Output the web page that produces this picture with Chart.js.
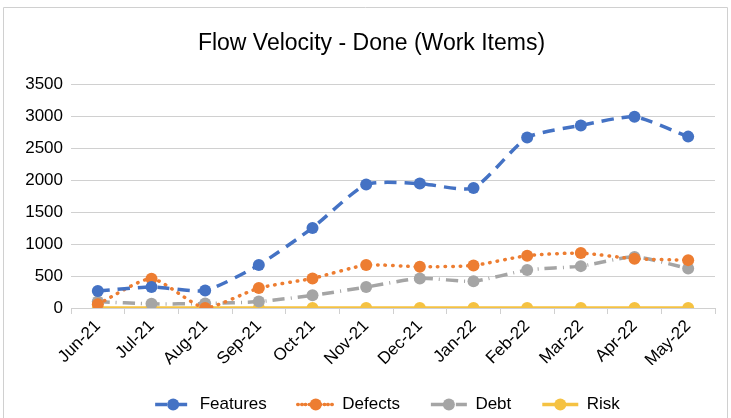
<!DOCTYPE html>
<html>
<head>
<meta charset="utf-8">
<script src="https://cdn.jsdelivr.net/npm/chart.js@4.4.1/dist/chart.umd.min.js"></script>
<style>
html,body{margin:0;padding:0;background:#fff;}
#wrap{position:relative;width:731px;height:418px;}
</style>
</head>
<body>
<div id="wrap"><canvas id="c" width="731" height="418"></canvas></div>
<script>
const categories = ["Jun-21","Jul-21","Aug-21","Sep-21","Oct-21","Nov-21","Dec-21","Jan-22","Feb-22","Mar-22","Apr-22","May-22"];
const features = [266, 330, 275, 675, 1255, 1935, 1950, 1880, 2670, 2860, 2995, 2685];
const defects  = [60, 460, 0, 312, 464, 672, 646, 667, 820, 860, 772, 750];
const debt     = [100, 65, 70, 100, 198, 328, 464, 420, 595, 656, 800, 620];
const risk     = [0, 0, 0, 0, 0, 0, 0, 0, 0, 0, 0, 0];
const yTicks   = [0, 500, 1000, 1500, 2000, 2500, 3000, 3500];

const FONT = "'Liberation Sans', Arial, Helvetica, sans-serif";

function ds(label, data, color, dash, cap) {
  return {
    label, data,
    borderColor: color, backgroundColor: color,
    pointBackgroundColor: color, pointBorderColor: color,
    borderWidth: 3.5, borderDash: dash, borderCapStyle: cap,
    pointRadius: 6, pointHoverRadius: 6, pointBorderWidth: 0,
    tension: 0.2, fill: false
  };
}

const frame = {
  id: 'frame',
  beforeDraw(chart) {
    const ctx = chart.ctx;
    ctx.save();
    ctx.strokeStyle = '#d0d0d0';
    ctx.lineWidth = 1;
    ctx.beginPath();
    ctx.moveTo(3.5, 420);
    ctx.lineTo(3.5, 7.5);
    ctx.lineTo(727.5, 7.5);
    ctx.lineTo(727.5, 420);
    ctx.stroke();
    ctx.restore();
  }
};

const boxShift = {
  id: 'boxShift',
  afterLayout(chart) {
    const lg = chart.legend;
    if (lg) { lg.left += 30; lg.right += 30; }
    const tt = chart.titleBlock;
    if (tt) { tt.left += 14; tt.right += 14; }
  }
};

const legendDots = {
  id: 'legendDots',
  afterDraw(chart) {
    const lg = chart.legend;
    if (!lg || !lg.legendHitBoxes) return;
    const ctx = chart.ctx;
    const bw = lg.options.labels.boxWidth;
    const fs = lg.options.labels.font.size;
    lg.legendHitBoxes.forEach((hb, i) => {
      const d = chart.data.datasets[i];
      ctx.save();
      ctx.fillStyle = d.borderColor;
      ctx.beginPath();
      ctx.arc(hb.left + bw / 2, hb.top + fs / 2, 6, 0, Math.PI * 2);
      ctx.fill();
      ctx.restore();
    });
  }
};

new Chart(document.getElementById('c'), {
  type: 'line',
  data: {
    labels: categories,
    datasets: [
      ds('Features', features, '#4472C4', [12, 8], 'butt'),
      ds('Defects', defects, '#ED7D31', [0.5, 7], 'round'),
      ds('Debt', debt, '#A5A5A5', [12, 6, 1, 6], 'butt'),
      ds('Risk', risk, '#F5C242', [], 'butt')
    ]
  },
  options: {
    responsive: false,
    animation: false,
    devicePixelRatio: 1,
    layout: { padding: { left: 0, right: 16, top: 0, bottom: -5 } },
    plugins: {
      title: {
        display: true,
        text: 'Flow Velocity - Done (Work Items)',
        color: '#000',
        font: { family: FONT, size: 23, weight: 'normal' },
        padding: { top: 30, bottom: 27 }
      },
      legend: {
        position: 'bottom',
        labels: {
          color: '#000',
          font: { family: FONT, size: 17 },
          boxWidth: 36,
          boxHeight: 0,
          padding: 31
        }
      },
      tooltip: { enabled: false }
    },
    scales: {
      x: {
        offset: true,
        afterFit(scale) { scale.height = 57; },
        grid: { offset: true, drawOnChartArea: false, drawTicks: true, tickLength: 6, color: '#d0d0d0' },
        border: { display: true, color: '#d0d0d0' },
        ticks: { color: '#000', font: { family: FONT, size: 17 }, minRotation: 45, maxRotation: 45, padding: 2 }
      },
      y: {
        min: 0, max: 3500,
        afterBuildTicks(scale) { scale.ticks = yTicks.map(v => ({ value: v })); },
        afterFit(scale) { scale.width = 71; },
        grid: { color: '#d0d0d0', drawTicks: false },
        border: { display: false },
        ticks: { color: '#000', font: { family: FONT, size: 17 }, padding: 8, callback: (v) => String(v) }
      }
    }
  },
  plugins: [frame, boxShift, legendDots]
});
</script>
</body>
</html>
